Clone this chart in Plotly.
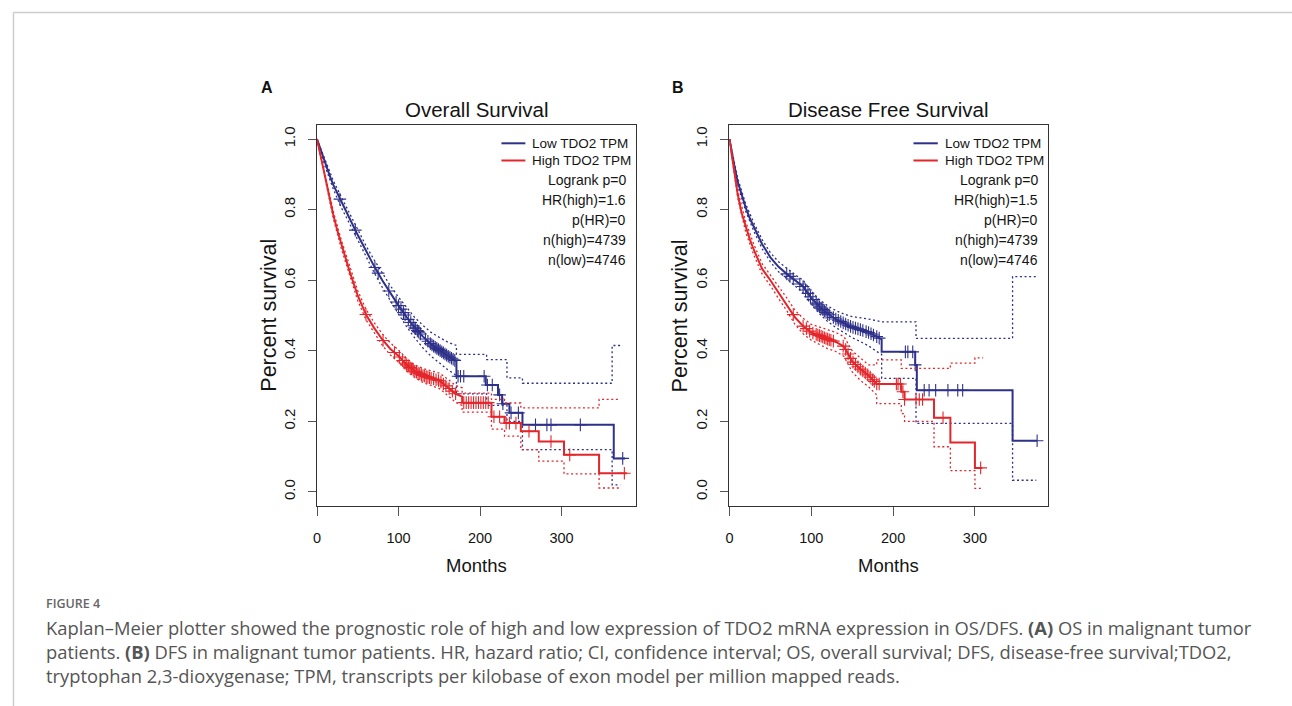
import numpy as np
import plotly.graph_objects as go

W, H = 1292, 706

# ---------------- data ----------------
# Panel A: Overall Survival
os_low_t = [0, 5, 10, 15, 20, 25, 30, 40, 50, 60, 70, 80, 90, 100, 110, 120, 130, 140, 150, 160, 171,
            171, 207, 207, 222, 222, 227, 227, 236, 236, 252, 252, 364, 364, 378]
os_low_s = [1.0, 0.965, 0.93, 0.90, 0.87, 0.845, 0.82, 0.775, 0.728, 0.682, 0.64, 0.60, 0.562, 0.528, 0.495, 0.465, 0.44, 0.418, 0.402, 0.386, 0.37,
            0.328, 0.328, 0.303, 0.303, 0.275, 0.275, 0.25, 0.25, 0.224, 0.224, 0.19, 0.19, 0.095, 0.095]
os_low_ci_t = [0, 10, 20, 30, 40, 50, 60, 70, 80, 90, 100, 110, 120, 130, 140, 150, 160, 171,
               171, 208, 208, 233, 233, 252, 252, 362, 362, 372]
os_low_ci_up = [1.0, 0.938, 0.882, 0.835, 0.79, 0.743, 0.698, 0.658, 0.62, 0.584, 0.552, 0.522, 0.494, 0.472, 0.452, 0.438, 0.425, 0.415,
                0.39, 0.39, 0.375, 0.375, 0.323, 0.323, 0.308, 0.308, 0.415, 0.415]
os_low_ci_lo = [1.0, 0.922, 0.858, 0.805, 0.76, 0.713, 0.666, 0.622, 0.58, 0.54, 0.504, 0.468, 0.436, 0.408, 0.384, 0.366, 0.347, 0.33,
                0.278, 0.278, 0.245, 0.245, 0.2, 0.2, 0.12, 0.12, 0.02, 0.02]
os_low_cens = [28, 47, 71, 75, 88, 97, 100, 103, 106, 108, 112, 115, 118, 120, 121, 123, 124, 125, 127, 133, 136, 139,
               141, 143, 145, 147, 149, 151, 153, 155, 157, 159, 161, 163, 165, 167, 169, 173, 176, 180, 205, 209,
               215, 224, 228, 238, 247, 268, 282, 287, 323, 375]

os_high_t = [0, 5, 10, 15, 20, 25, 30, 40, 50, 60, 70, 80, 90, 100, 110, 120, 130, 140, 150, 160, 170, 178,
             178, 214, 214, 230, 230, 250, 250, 272, 272, 303, 303, 346, 346, 380]
os_high_s = [1.0, 0.945, 0.89, 0.835, 0.785, 0.74, 0.70, 0.625, 0.556, 0.503, 0.465, 0.432, 0.405, 0.385, 0.36, 0.342, 0.33, 0.322, 0.315, 0.297, 0.278, 0.27,
             0.253, 0.253, 0.213, 0.213, 0.195, 0.195, 0.172, 0.172, 0.143, 0.143, 0.105, 0.105, 0.053, 0.053]
os_high_ci_t = [0, 10, 20, 30, 40, 50, 60, 70, 80, 90, 100, 110, 120, 130, 140, 150, 160, 170, 178,
                178, 214, 214, 230, 230, 250, 250, 272, 272, 303, 303, 346, 346, 372]
os_high_ci_up = [1.0, 0.898, 0.795, 0.712, 0.638, 0.57, 0.518, 0.48, 0.448, 0.422, 0.402, 0.378, 0.36, 0.35, 0.343, 0.337, 0.32, 0.302, 0.295,
                 0.28, 0.28, 0.262, 0.262, 0.252, 0.252, 0.238, 0.238, 0.238, 0.238, 0.238, 0.238, 0.262, 0.262]
os_high_ci_lo = [1.0, 0.882, 0.775, 0.688, 0.612, 0.542, 0.488, 0.45, 0.416, 0.388, 0.368, 0.342, 0.324, 0.31, 0.301, 0.293, 0.274, 0.254, 0.245,
                 0.226, 0.226, 0.178, 0.178, 0.158, 0.158, 0.12, 0.12, 0.087, 0.087, 0.051, 0.051, 0.011, 0.011]
os_high_cens = [60, 81, 95, 101, 105, 108, 110, 112, 114, 116, 118, 120, 122, 124, 126, 128, 130, 132, 134, 136, 138,
                140, 143, 146, 149, 152, 155, 158, 162, 166, 170, 180, 183, 186, 189, 192, 195, 198, 201, 204, 207,
                210, 217, 224, 232, 236, 244, 260, 287, 310, 377]

# Panel B: Disease Free Survival
dfs_low_t = [0, 3, 6, 10, 15, 20, 25, 30, 40, 50, 60, 70, 80, 90, 100, 110, 120, 130, 140, 150, 160, 170, 180, 186,
             186, 227, 227, 229, 229, 346, 346, 376]
dfs_low_s = [1.0, 0.96, 0.925, 0.88, 0.84, 0.805, 0.775, 0.75, 0.702, 0.665, 0.638, 0.618, 0.60, 0.582, 0.55, 0.525, 0.505, 0.49, 0.478, 0.467, 0.46, 0.452, 0.44, 0.432,
             0.397, 0.397, 0.36, 0.36, 0.288, 0.288, 0.145, 0.145]
dfs_low_ci_t = [0, 10, 20, 30, 40, 50, 60, 70, 80, 90, 100, 110, 120, 130, 140, 150, 160, 170, 180, 186,
                186, 228, 228, 346, 346, 375]
dfs_low_ci_up = [1.0, 0.89, 0.815, 0.762, 0.715, 0.678, 0.652, 0.633, 0.616, 0.60, 0.569, 0.545, 0.527, 0.514, 0.504, 0.497, 0.494, 0.49, 0.485, 0.482,
                 0.482, 0.482, 0.435, 0.435, 0.61, 0.61]
dfs_low_ci_lo = [1.0, 0.87, 0.795, 0.738, 0.689, 0.652, 0.624, 0.603, 0.584, 0.564, 0.531, 0.505, 0.483, 0.466, 0.452, 0.437, 0.426, 0.414, 0.398, 0.39,
                 0.322, 0.322, 0.194, 0.194, 0.033, 0.033]
dfs_low_cens = [70, 74, 78, 86, 90, 93, 96, 99, 102, 106, 108, 110, 112, 114, 116, 118, 120, 122, 127, 130, 133, 136,
                139, 142, 145, 148, 151, 154, 157, 160, 163, 167, 170, 173, 176, 180, 183, 215, 218, 224, 227,
                238, 244, 252, 267, 279, 285, 376]

dfs_high_t = [0, 3, 6, 10, 15, 20, 25, 30, 40, 50, 60, 70, 80, 90, 100, 110, 120, 130, 140, 150, 160, 170, 180,
              210, 210, 214, 214, 250, 250, 270, 270, 300, 300, 309]
dfs_high_s = [1.0, 0.95, 0.90, 0.845, 0.79, 0.75, 0.715, 0.685, 0.632, 0.60, 0.565, 0.532, 0.495, 0.47, 0.452, 0.443, 0.433, 0.425, 0.412, 0.37, 0.348, 0.33, 0.306,
              0.306, 0.284, 0.284, 0.262, 0.262, 0.21, 0.21, 0.14, 0.14, 0.068, 0.068]
dfs_high_ci_t = [0, 10, 20, 30, 40, 50, 60, 70, 80, 90, 100, 110, 120, 130, 140, 150, 160, 170, 180,
                 180, 210, 210, 214, 214, 250, 250, 270, 270, 300, 300, 310]
dfs_high_ci_up = [1.0, 0.855, 0.765, 0.70, 0.647, 0.615, 0.582, 0.55, 0.515, 0.492, 0.475, 0.468, 0.46, 0.452, 0.44, 0.40, 0.38, 0.36, 0.36,
                  0.374, 0.374, 0.35, 0.35, 0.35, 0.35, 0.35, 0.35, 0.365, 0.365, 0.38, 0.38]
dfs_high_ci_lo = [1.0, 0.835, 0.735, 0.67, 0.617, 0.585, 0.548, 0.514, 0.475, 0.448, 0.43, 0.418, 0.406, 0.398, 0.384, 0.34, 0.316, 0.298, 0.275,
                  0.25, 0.25, 0.222, 0.222, 0.2, 0.2, 0.128, 0.128, 0.06, 0.06, 0.01, 0.01]
dfs_high_cens = [78, 90, 94, 98, 102, 106, 108, 110, 112, 114, 116, 118, 120, 122, 124, 127, 139, 142, 145, 148, 151,
                 154, 157, 160, 163, 166, 169, 172, 175, 177, 180, 183, 204, 206, 209, 212, 214, 228, 232, 236, 261, 307]

legend_labels = ["Low TDO2 TPM", "High TDO2 TPM"]
stats_A = ["Logrank p=0", "HR(high)=1.6", "p(HR)=0", "n(high)=4739", "n(low)=4746"]
stats_B = ["Logrank p=0", "HR(high)=1.5", "p(HR)=0", "n(high)=4739", "n(low)=4746"]
titles = ["Overall Survival", "Disease Free Survival"]
x_ticks = [0, 100, 200, 300]
y_ticks = [0.0, 0.2, 0.4, 0.6, 0.8, 1.0]

# ---------------- styles ----------------
BLUE = "#2E3189"
RED = "#E3262B"
ARIAL = "Liberation Sans, Arial, Helvetica, sans-serif"
TXT = "#141414"
AXC = "#333333"


def px(x):
    return x / W


def py(y):
    return 1 - y / H


panels = [
    dict(xa="x", ya="y", box=(314, 634.3), xmax=391.7, lab="A", labx=264,
         low=(os_low_t, os_low_s, os_low_ci_t, os_low_ci_up, os_low_ci_lo, os_low_cens),
         high=(os_high_t, os_high_s, os_high_ci_t, os_high_ci_up, os_high_ci_lo, os_high_cens),
         stats=stats_A, leg_line=(499, 523), leg_txt=528, stat_r=626, ylab_x=265),
    dict(xa="x2", ya="y2", box=(727.7, 1047), xmax=389.0, lab="B", labx=676,
         low=(dfs_low_t, dfs_low_s, dfs_low_ci_t, dfs_low_ci_up, dfs_low_ci_lo, dfs_low_cens),
         high=(dfs_high_t, dfs_high_s, dfs_high_ci_t, dfs_high_ci_up, dfs_high_ci_lo, dfs_high_cens),
         stats=stats_B, leg_line=(912.3, 936.7), leg_txt=941.7, stat_r=1039.5, ylab_x=678),
]

BOX_TOP, BOX_BOT = 125, 506

fig = go.Figure()
annotations = []
shapes = []

for i, p in enumerate(panels):
    for grp, col, name in ((p["low"], BLUE, legend_labels[0]), (p["high"], RED, legend_labels[1])):
        t, s, ct, cu, cl, cens = grp
        for ci in (cu, cl):
            fig.add_trace(go.Scatter(x=ct, y=ci, mode="lines", xaxis=p["xa"], yaxis=p["ya"],
                                     line=dict(color=col, width=1.3, dash="2px,2.6px"),
                                     showlegend=False, hoverinfo="skip"))
        fig.add_trace(go.Scatter(x=t, y=s, mode="lines", name=name, xaxis=p["xa"], yaxis=p["ya"],
                                 line=dict(color=col, width=2), showlegend=False))
        cy = np.interp(np.array(cens, dtype=float), np.array(t, dtype=float), np.array(s, dtype=float))
        fig.add_trace(go.Scatter(x=cens, y=cy, mode="markers", xaxis=p["xa"], yaxis=p["ya"],
                                 marker=dict(symbol="cross-thin", size=9, color=col,
                                             line=dict(color=col, width=1.1)),
                                 showlegend=False, hoverinfo="skip"))

    # legend samples
    for k, (col, yy) in enumerate(((BLUE, 143.3), (RED, 160.5))):
        shapes.append(dict(type="line", xref="paper", yref="paper",
                           x0=px(p["leg_line"][0]), x1=px(p["leg_line"][1]), y0=py(yy), y1=py(yy),
                           line=dict(color=col, width=2)))
        annotations.append(dict(text=legend_labels[k], xref="paper", yref="paper",
                                x=px(p["leg_txt"]), y=py(yy), xanchor="left", yanchor="middle",
                                showarrow=False, font=dict(family=ARIAL, size=13.5, color=TXT)))
    for k, st in enumerate(p["stats"]):
        yy = 180 + 20.1 * k
        annotations.append(dict(text=st, xref="paper", yref="paper",
                                x=px(p["stat_r"]), y=py(yy), xanchor="right", yanchor="middle",
                                showarrow=False, font=dict(family=ARIAL, size=14, color=TXT)))
    cx = (p["box"][0] + p["box"][1]) / 2
    annotations.append(dict(text=titles[i], xref="paper", yref="paper", x=px(cx), y=py(109),
                            xanchor="center", yanchor="middle", showarrow=False,
                            font=dict(family=ARIAL, size=20.5, color=TXT)))
    annotations.append(dict(text="Months", xref="paper", yref="paper", x=px(cx), y=py(565),
                            xanchor="center", yanchor="middle", showarrow=False,
                            font=dict(family=ARIAL, size=18.5, color=TXT)))
    annotations.append(dict(text="Percent survival", xref="paper", yref="paper", x=px(p["ylab_x"]),
                            y=py((BOX_TOP + BOX_BOT) / 2), xanchor="center", yanchor="middle",
                            textangle=-90, showarrow=False, font=dict(family=ARIAL, size=21.5, color=TXT)))
    annotations.append(dict(text="<b>%s</b>" % p["lab"], xref="paper", yref="paper", x=px(p["labx"]),
                            y=py(88), xanchor="center", yanchor="middle", showarrow=False,
                            font=dict(family=ARIAL, size=16, color="#111111")))

# caption
CAP = "Open Sans, Noto Sans, sans-serif"
annotations.append(dict(text="FIGURE 4", xref="paper", yref="paper", x=px(40), y=py(603),
                        xanchor="left", yanchor="middle", showarrow=False,
                        font=dict(family=CAP, size=12.5, color="#666666", weight=600)))
cap_lines = [
    "Kaplan\u2013Meier plotter showed the prognostic role of high and low expression of TDO2 mRNA expression in OS/DFS. <b>(A)</b> OS in malignant tumor",
    "patients. <b>(B)</b> DFS in malignant tumor patients. HR, hazard ratio; CI, confidence interval; OS, overall survival; DFS, disease-free survival;TDO2,",
    "tryptophan 2,3-dioxygenase; TPM, transcripts per kilobase of exon model per million mapped reads.",
]
for k, line in enumerate(cap_lines):
    annotations.append(dict(text=line, xref="paper", yref="paper", x=px(40), y=py(627 + 24 * k),
                            xanchor="left", yanchor="middle", showarrow=False,
                            font=dict(family=CAP, size=18.35, color="#555555")))

# page frame lines
shapes.append(dict(type="line", xref="paper", yref="paper", x0=px(9.5), x1=1, y0=py(12.5), y1=py(12.5),
                   line=dict(color="#cccccc", width=1.5)))
shapes.append(dict(type="line", xref="paper", yref="paper", x0=px(9.5), x1=px(9.5), y0=py(12.5), y1=0,
                   line=dict(color="#cccccc", width=1.5)))

ydom = [py(BOX_BOT), py(BOX_TOP)]
common_x = dict(showgrid=False, zeroline=False, showline=True, mirror=True, linecolor=AXC, linewidth=1.3,
                ticks="outside", ticklen=9, tickcolor="#555555", tickwidth=1.2,
                tickvals=x_ticks, ticktext=[str(v) for v in x_ticks],
                tickfont=dict(family=ARIAL, size=14.5, color=TXT), ticklabelstandoff=9)
common_y = dict(showgrid=False, zeroline=False, showline=True, mirror=True, linecolor=AXC, linewidth=1.3,
                ticks="outside", ticklen=8, tickcolor="#555555", tickwidth=1.2, range=[-0.04, 1.04],
                tickvals=y_ticks, ticktext=["%.1f" % v for v in y_ticks], tickangle=-90,
                tickfont=dict(family=ARIAL, size=15, color=TXT), ticklabelstandoff=7, domain=ydom)

fig.update_layout(
    width=W, height=H, margin=dict(l=0, r=0, t=0, b=0),
    paper_bgcolor="white", plot_bgcolor="white", showlegend=False,
    xaxis=dict(common_x, domain=[px(314), px(634.3)], range=[0, 391.7], anchor="y"),
    yaxis=dict(common_y, anchor="x"),
    xaxis2=dict(common_x, domain=[px(727.7), px(1047)], range=[0, 389.0], anchor="y2"),
    yaxis2=dict(common_y, anchor="x2"),
    annotations=annotations, shapes=shapes,
)

fig.write_html("out.html")
